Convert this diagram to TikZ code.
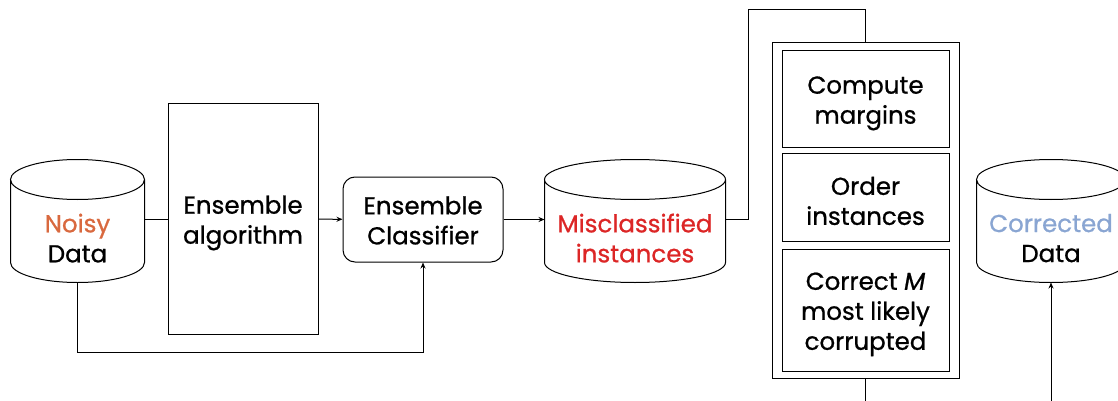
\documentclass[tikz,border=0pt]{standalone}
\usepackage{fontspec}
\setmainfont{Poppins}[UprightFeatures={FakeBold=0.8}, ItalicFeatures={FakeBold=0.8}]
\usepackage{xcolor}
\usetikzlibrary{arrows.meta, calc}

\definecolor{noisyc}{HTML}{D9693F}
\definecolor{misc}{HTML}{DC2626}
\definecolor{corrc}{HTML}{89A5D2}

\begin{document}
\begin{tikzpicture}[x=1pt, y=-1pt, line width=1pt, >={Stealth[length=6pt, width=5pt]},
    every node/.style={font=\fontsize{24.5}{30}\selectfont, align=center, inner sep=0pt},
    db/.style={minimum height=82pt, execute at begin node={\rule[-6pt]{0pt}{0pt}}},
    box/.style={draw, rectangle, text height=56pt}]
    \useasboundingbox (0,0) rectangle (1118,401);

    % Databases (body below the top lid)
    \node[db, minimum width=133pt] (noisy) at (77.5,241) {\textcolor{noisyc}{Noisy}\\Data};
    \node[db, minimum width=180pt, text=misc] (miscls) at (635,241) {Misclassified\\instances};
    \node[db, minimum width=148pt] (corr) at (1051,241) {\textcolor{corrc}{Corrected}\\Data};
    \foreach \db in {noisy, miscls, corr}
        \draw let \p1=(\db.north west), \p2=(\db.south east), \n1={(\x2-\x1)/2} in
            ({(\x1+\x2)/2},{\y1+20pt}) ellipse [x radius=\n1, y radius=20pt]
            ({\x1},{\y1+20pt}) -- ({\x1},{\y2+20pt}) arc [start angle=180, end angle=360, x radius=\n1, y radius=20pt] -- ({\x2},{\y1+20pt});

    % Learning
    \node[box, minimum width=150pt, minimum height=230pt] (algo) at (243,219) {Ensemble\\algorithm};
    \node[box, rounded corners=12pt, minimum width=160pt, minimum height=85pt, text height=50pt] (clf) at (423,219.5) {Ensemble\\Classifier};

    % Correction steps
    \node[box, minimum width=187pt, minimum height=335pt] (fix) at (865.5,210.5) {};
    \node[box, minimum width=167pt, minimum height=96pt] (margins) at (865.5,99) {Compute\\margins};
    \node[box, minimum width=167pt, minimum height=88pt] (order) at (865.5,197) {Order\\instances};
    \node[box, minimum width=167pt, minimum height=122pt, text height=86pt] (correct) at (865.5,310) {Correct \textit{M}\\most likely\\corrupted};

    \coordinate (out) at (865.5,405);
    \coordinate (in) at (1051,405);

    % Connections
    \draw (algo.west) -- (algo.west -| noisy.east);
    \draw[->] (algo) -- (clf);
    \draw[->] (clf.east) -- (miscls.west |- clf.east);
    \draw[->] (noisy.south) -- ++(0,70) -| (clf.south);
    \draw (miscls.east |- algo) -| ++(23,-209) -| (fix.north);
    \draw (fix.south) -- (out);
    \draw[->] (in) -- (corr.south);
\end{tikzpicture}
\end{document}
